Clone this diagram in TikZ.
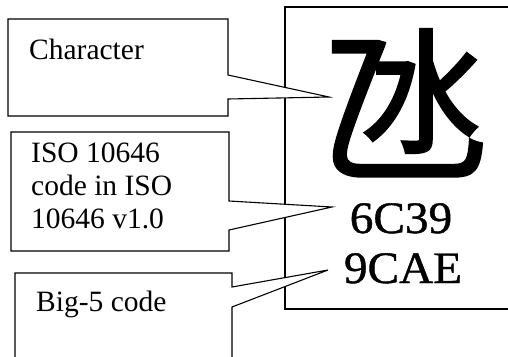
\documentclass[tikz,border=0pt]{standalone}
\usepackage{fontspec}
\setmainfont{Liberation Serif}
\newfontfamily\cjk[FakeBold=1.2]{Noto Sans CJK TC}
\newfontfamily\codefont[FakeBold=0.9]{Liberation Serif}
\begin{document}
\begin{tikzpicture}[x=1pt,y=-1pt,
  outline/.style={draw=black,line width=1.1pt,line join=miter,fill=white},
  lbl/.style={anchor=base west,inner sep=0pt,font=\fontsize{29.5}{33}\selectfont,align=left},
  code/.style={anchor=base,inner sep=0pt,font=\codefont\fontsize{45}{48}\selectfont,xscale=1.05}]
\useasboundingbox (0,0) rectangle (508,356);
\begin{scope}
\clip (0,0) rectangle (508,356);
% right frame
\draw[outline,fill=none] (515,7) -- (285,7) -- (285,309) -- (515,309);
% character and codes
\node[anchor=base,inner sep=0pt,xscale=0.98,font=\cjk\fontsize{168}{168}\selectfont] (chr) at (405,168) {氹};
\node[code] (ucs) at (401,233) {6C39};
\node[code] (big) at (403,283) {9CAE};
\coordinate (t1) at (329,97);
\coordinate (t2) at (332,207);
\coordinate (t3) at (328,270);
% callouts
\draw[outline] (8,19) -- (228,19) -- (228,75) -- (t1) -- (228,99) -- (228,116) -- (8,116) -- cycle;
\draw[outline] (11,132) -- (229,132) -- (229,201) -- (t2) -- (229,230) -- (229,251) -- (11,251) -- cycle;
\draw[outline] (15,365) -- (15,273) -- (232,273) -- (232,287) -- (t3) -- (232,307) -- (232,365);
\end{scope}
\node[lbl] (l1) at (29,59) {Character};
\node[lbl,anchor=north west] (l2) at (31,143) {ISO 10646\\code in ISO\\10646 v1.0};
\node[lbl] (l3) at (36,311) {Big-5 code};
\end{tikzpicture}
\end{document}
